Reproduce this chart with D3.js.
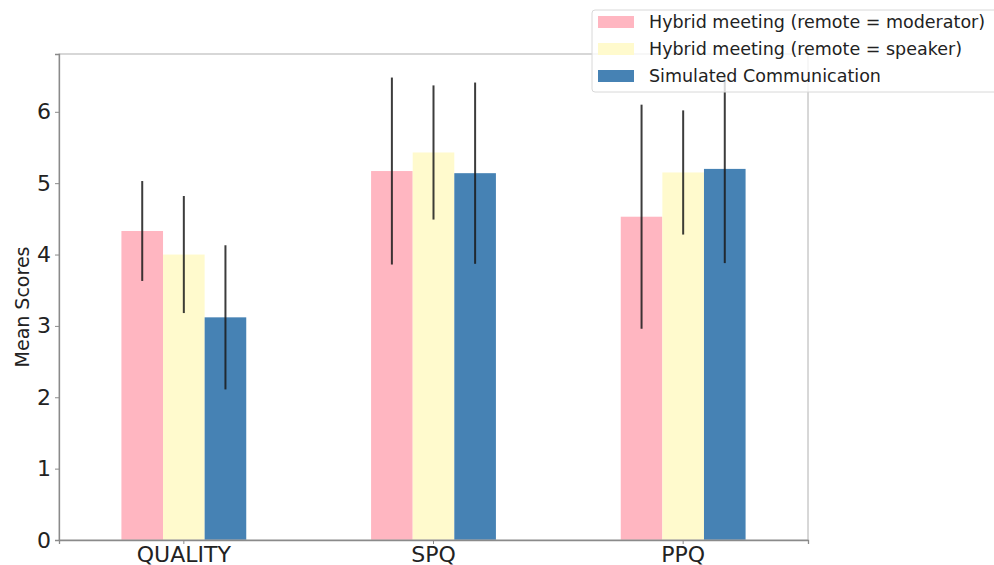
<!DOCTYPE html>
<html>
<head>
<meta charset="utf-8">
<script src="https://cdn.jsdelivr.net/npm/d3@7"></script>
<style>
  body { margin: 0; background: #fff; }
  svg { font-family: "DejaVu Sans", sans-serif; }
</style>
</head>
<body>
<div id="chart"></div>
<script>
// Datos
const categorias = ["QUALITY", "SPQ", "PPQ"]
const series = ["Hybrid meeting (remote = moderator)", "Hybrid meeting (remote = speaker)", "Simulated Communication"]
const colores = ["#ffb6c1", "#fffacd", "#4682b4"]
const medias = [
  [4.33, 5.17, 4.53],
  [4.00, 5.43, 5.15],
  [3.12, 5.14, 5.20]
]
const desviaciones = [
  [0.70, 1.31, 1.57],
  [0.82, 0.94, 0.87],
  [1.01, 1.27, 1.32]
]
const yTicks = [0, 1, 2, 3, 4, 5, 6]

// Constantes
const width = 994
const height = 565
const margin = { top: 54, bottom: 25, left: 59, right: 186 }

const svg = d3.select("#chart").append("svg")
  .attr("width", width)
  .attr("height", height)

const innerW = width - margin.left - margin.right
const innerH = height - margin.top - margin.bottom

const elementGroup = svg.append("g")
  .attr("transform", `translate(${margin.left}, ${margin.top})`)

// Escalas
const x = d3.scaleBand().domain(categorias).range([0, innerW])
const xSub = d3.scaleBand().domain(d3.range(series.length))
  .range([x.bandwidth() * 0.25, x.bandwidth() * 0.75])
const y = d3.scaleLinear().domain([0, 6.81]).range([innerH, 0])

// Barras
const datos = []
series.forEach((s, i) => categorias.forEach((c, j) => {
  datos.push({ serie: i, cat: c, media: medias[i][j], sd: desviaciones[i][j] })
}))

elementGroup.selectAll("rect.bar")
  .data(datos)
  .enter()
  .append("rect")
  .attr("class", "bar")
  .attr("x", d => x(d.cat) + xSub(d.serie))
  .attr("y", d => y(d.media))
  .attr("width", xSub.bandwidth())
  .attr("height", d => innerH - y(d.media))
  .attr("fill", d => colores[d.serie])

// Barras de error
elementGroup.selectAll("line.err")
  .data(datos)
  .enter()
  .append("line")
  .attr("class", "err")
  .attr("x1", d => x(d.cat) + xSub(d.serie) + xSub.bandwidth() / 2)
  .attr("x2", d => x(d.cat) + xSub(d.serie) + xSub.bandwidth() / 2)
  .attr("y1", d => y(d.media - d.sd))
  .attr("y2", d => y(d.media + d.sd))
  .attr("stroke", "#1a1a1a")
  .attr("stroke-opacity", 0.85)
  .attr("stroke-width", 2)

// Marco
elementGroup.append("rect")
  .attr("x", 0).attr("y", 0)
  .attr("width", innerW).attr("height", innerH)
  .attr("fill", "none")
  .attr("stroke", "#b0b0b0")
  .attr("stroke-width", 1)

// Ejes
const yAxis = d3.axisLeft(y).tickValues(yTicks).tickFormat(d3.format("d")).tickSize(4).tickPadding(4)
const yAxisGroup = elementGroup.append("g").call(yAxis)
yAxisGroup.select(".domain").attr("stroke", "#8a8a8a").attr("stroke-width", 1.3)
yAxisGroup.selectAll(".tick line").attr("stroke", "#8a8a8a")
yAxisGroup.selectAll("text")
  .style("font-size", "22px")
  .attr("fill", "#222")
  .style("font-family", "DejaVu Sans, sans-serif")

const xAxis = d3.axisBottom(x).tickSize(4).tickPadding(2)
const xAxisGroup = elementGroup.append("g")
  .attr("transform", `translate(0, ${innerH})`)
  .call(xAxis)
xAxisGroup.select(".domain").attr("stroke", "#8a8a8a").attr("stroke-width", 1.3)
xAxisGroup.selectAll(".tick line").attr("stroke", "#8a8a8a")
xAxisGroup.selectAll("text")
  .style("font-size", "22px")
  .attr("fill", "#222")
  .style("font-family", "DejaVu Sans, sans-serif")

svg.append("text")
  .attr("transform", `translate(29, ${margin.top + innerH / 2 + 10}) rotate(-90)`)
  .attr("text-anchor", "middle")
  .style("font-size", "19px")
  .attr("fill", "#222")
  .text("Mean Scores")

// Leyenda
const leyenda = svg.append("g").attr("transform", "translate(592, 10)")
leyenda.append("rect")
  .attr("x", 0).attr("y", 0)
  .attr("width", 410).attr("height", 82)
  .attr("rx", 3)
  .attr("fill", "#fff")
  .attr("fill-opacity", 0.8)
  .attr("stroke", "#d8d8d8")

const items = leyenda.selectAll(".leyenda-item")
  .data(series)
  .enter()
  .append("g")
  .attr("class", "leyenda-item")
  .attr("transform", (d, i) => `translate(6, ${12 + i * 27})`)

items.append("rect")
  .attr("x", 0).attr("y", -6)
  .attr("width", 36).attr("height", 12)
  .attr("fill", (d, i) => colores[i])

items.append("text")
  .attr("x", 51)
  .attr("y", 0)
  .attr("dy", "0.35em")
  .style("font-size", "17.5px")
  .attr("fill", "#222")
  .text(d => d)
</script>
</body>
</html>
